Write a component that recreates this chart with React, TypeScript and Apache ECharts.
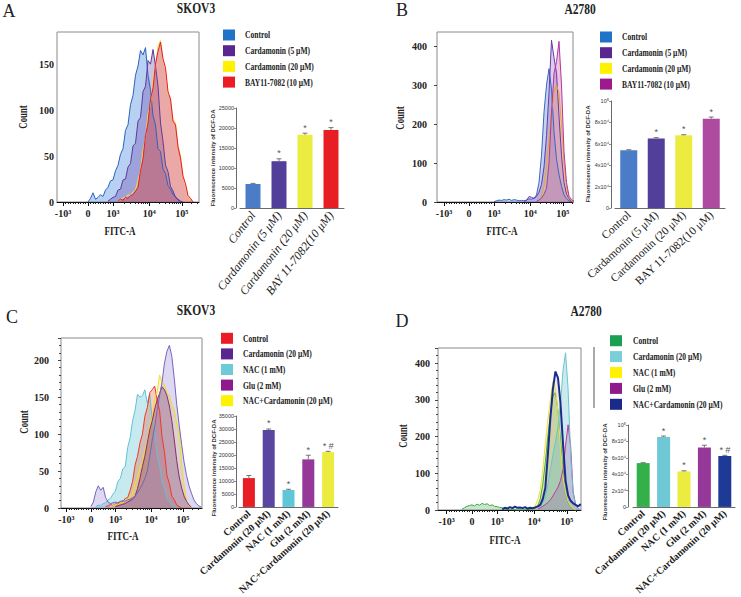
import React, { useEffect, useRef } from "react";
import * as echarts from "echarts";

// ===== FITC-A (biexponential) display scale =====
const fitcTickPos = [-1, 0, 1, 2.45, 3.75];
const fitcTickLabels = ["-10³", "0", "10³", "10⁴", "10⁵"];
const binWidth = 0.1;

// ===== Panel A: SKOV3 =====
const aLegend = ["Control", "Cardamonin (5 μM)", "Cardamonin (20 μM)", "BAY11-7082 (10 μM)"];
const aBarCategories = ["Control", "Cardamonin (5 μM)", "Cardamonin (20 μM)", "BAY 11-7082(10 μM)"];
const aBarValues = [6000, 11700, 18300, 19500];
const aBarErrors = [150, 600, 400, 600];
const aBarMarks = ["", "*", "*", "*"];
const aHistStarts = [0.0, 0.8, 1.2, 1.2];
const aHistControl = [0, 4, 10, 3, 5, 8, 6, 13, 16, 23, 24, 34, 40, 52, 58, 78, 84, 106, 116, 138, 148, 165, 160, 168, 138, 122, 94, 84, 58, 55, 36, 31, 18, 14, 8, 6, 2, 0];
const aHistCard5 = [1, 3, 5, 6, 13, 14, 24, 25, 38, 42, 61, 64, 88, 92, 120, 126, 154, 150, 166, 148, 126, 86, 66, 40, 33, 17, 12, 5, 3, 1, 0];
const aHistCard20 = [1, 2, 5, 4, 8, 7, 11, 13, 24, 34, 56, 70, 95, 106, 134, 148, 170, 176, 155, 144, 118, 113, 90, 86, 62, 50, 29, 18, 6, 3, 0];
const aHistBay = [1, 3, 2, 5, 4, 7, 8, 12, 16, 34, 47, 72, 86, 112, 124, 150, 164, 174, 156, 146, 120, 112, 88, 84, 60, 48, 28, 20, 7, 4, 0];

// ===== Panel B: A2780 =====
const bLegend = ["Control", "Cardamonin (5 μM)", "Cardamonin (20 μM)", "BAY11-7082 (10 μM)"];
const bBarCategories = ["Control", "Cardamonin (5 μM)", "Cardamonin (20 μM)", "BAY 11-7082(10 μM)"];
const bBarValues = [54000, 65000, 68000, 83500];
const bBarErrors = [500, 800, 500, 1500];
const bBarMarks = ["", "*", "*", "*"];
const bHistStarts = [1.0, 2.2, 2.8, 2.7];
const bHistControl = [1, 3, 5, 4, 6, 5, 7, 4, 6, 5, 3, 4, 3, 5, 8, 7, 10, 18, 50, 120, 230, 300, 342, 290, 180, 110, 70, 40, 18, 8, 3, 0];
const bHistCard5 = [2, 4, 14, 12, 9, 14, 25, 45, 90, 170, 280, 415, 370, 330, 220, 120, 50, 20, 8, 2, 0];
const bHistCard20 = [5, 15, 40, 90, 160, 230, 280, 300, 280, 200, 100, 40, 12, 3, 0];
const bHistBay = [2, 5, 10, 20, 35, 100, 230, 330, 360, 412, 300, 130, 50, 15, 6, 2];

// ===== Panel C: SKOV3 =====
const cLegend = ["Control", "Cardamonin (20 μM)", "NAC (1 mM)", "Glu (2 mM)", "NAC+Cardamonin (20 μM)"];
const cBarCategories = ["Control", "Cardamonin (20 μM)", "NAC (1 mM)", "Glu (2 mM)", "NAC+Cardamonin (20 μM)"];
const cBarValues = [11100, 29600, 6500, 18300, 21100];
const cBarErrors = [1000, 400, 300, 1600, 300];
const cBarMarks = ["", "*", "*", "*", "* #"];
const cHistStarts = [0.6, 0.0, 0.2, 1.0, 0.8];
const cHistControl = [2, 3, 5, 3, 6, 5, 8, 8, 13, 14, 24, 36, 58, 70, 88, 100, 124, 136, 156, 160, 165, 146, 132, 96, 76, 44, 33, 16, 11, 4, 2, 0];
const cHistCard20 = [2, 8, 22, 30, 24, 28, 14, 8, 6, 7, 8, 7, 9, 10, 9, 11, 12, 14, 16, 20, 26, 32, 40, 50, 70, 92, 110, 132, 152, 170, 196, 212, 220, 205, 175, 140, 112, 86, 62, 44, 30, 20, 11, 6, 3, 1];
const cHistNac = [2, 4, 3, 6, 7, 11, 13, 19, 23, 36, 40, 53, 56, 82, 95, 118, 132, 154, 150, 152, 160, 142, 154, 120, 104, 72, 58, 35, 27, 13, 9, 3, 2, 0];
const cHistGlu = [2, 3, 4, 5, 6, 8, 10, 12, 16, 26, 40, 56, 70, 88, 106, 118, 134, 146, 155, 164, 160, 152, 138, 118, 92, 64, 42, 27, 16, 9, 4, 1];
const cHistNacCard = [2, 3, 5, 4, 7, 7, 11, 11, 17, 19, 34, 42, 56, 62, 79, 88, 111, 122, 148, 157, 180, 170, 167, 155, 152, 140, 132, 115, 102, 60, 30, 9, 3, 0];

// ===== Panel D: A2780 =====
const dLegend = ["Control", "Cardamonin (20 μM)", "NAC (1 mM)", "Glu (2 mM)", "NAC+Cardamonin (20 μM)"];
const dBarCategories = ["Control", "Cardamonin (20 μM)", "NAC (1 mM)", "Glu (2 mM)", "NAC+Cardamonin (20 μM)"];
const dBarValues = [53500, 85500, 43300, 72500, 62200];
const dBarErrors = [500, 1000, 800, 2800, 800];
const dBarMarks = ["", "*", "*", "*", "* #"];
const dHistStarts = [-0.4, 1.2, 2.3, 2.6, 2.6];
const dHistControl = [2, 6, 10, 12, 14, 11, 16, 13, 18, 15, 17, 12, 14, 10, 9, 7, 6, 3, 2, 1, 1, 1, 0, 0, 0, 1, 1, 2, 2, 5, 10, 30, 70, 130, 200, 260, 310, 320, 270, 190, 110, 50, 20, 8, 2, 0];
const dHistNacCard = [2, 6, 4, 8, 5, 9, 6, 7, 5, 8, 4, 6, 5, 7, 10, 14, 30, 60, 150, 250, 330, 377, 360, 290, 180, 80, 40, 25, 18, 14, 10, 16];
const dHistNac = [3, 6, 12, 28, 55, 110, 180, 245, 300, 350, 330, 268, 170, 90, 50, 23, 10, 4, 0];
const dHistGlu = [3, 6, 10, 15, 20, 28, 38, 50, 62, 80, 110, 175, 232, 175, 50, 14, 4, 0];
const dHistCard20 = [4, 10, 20, 35, 70, 110, 150, 185, 225, 290, 380, 428, 330, 150, 45, 12, 3, 0];

// ===== Styles / layout =====
const SERIF = "'Liberation Serif', 'Times New Roman', serif";
const SANS = "'Liberation Sans', Arial, sans-serif";

const panels = [
  {
    letter: "A", letterPos: [9, 11], title: "SKOV3", titlePos: [196, 9],
    hist: { left: 57, top: 32, width: 142, height: 170, xMin: -1.24, xMax: 4.44, yMax: 185, yInt: 50, labelMargin: 3, yTick: false, yMinor: false },
    countPos: [22, 117], fitcPos: [120, 230],
    curves: [
      { data: aHistControl, start: aHistStarts[0], line: "#2a64bf", fill: "rgba(86,144,222,0.6)", width: 1 },
      { data: aHistCard5, start: aHistStarts[1], line: "#5a3c9c", fill: "rgba(110,78,175,0.5)", width: 1 },
      { data: aHistCard20, start: aHistStarts[2], line: "#f2e030", fill: "rgba(240,228,60,0.25)", width: 1 },
      { data: aHistBay, start: aHistStarts[3], line: "#e3193a", fill: "rgba(205,40,80,0.55)", width: 1 },
    ],
    legend: aLegend, legendColors: ["#1f74c8", "#5a2790", "#fff200", "#ec1c24"],
    legendPos: { x: 223, y0: 35, dy: 15.7, textX: 245 },
    bar: { left: 240, top: 108, width: 104, height: 100, yMax: 25000, yInt: 5000, offset: 4, barWidth: 15, rotate: 52, italic: true, bold: false, fontSize: 12, sci: false },
    yNamePos: [212.5, 158],
    cats: aBarCategories, values: aBarValues, errors: aBarErrors, marks: aBarMarks,
    barColors: ["#4a7cc8", "#513f99", "#ecec40", "#e81e25"],
  },
  {
    letter: "B", letterPos: [402, 10], title: "A2780", titlePos: [580, 10],
    hist: { left: 437, top: 32, width: 136, height: 170, xMin: -1.28, xMax: 4.16, yMax: 436, yInt: 100, labelMargin: 10, yTick: true, yMinor: false },
    countPos: [399, 118], fitcPos: [502, 230],
    curves: [
      { data: bHistControl, start: bHistStarts[0], line: "#3a66c4", fill: "rgba(90,130,210,0.5)", width: 1 },
      { data: bHistCard5, start: bHistStarts[1], line: "#6a3aa6", fill: "rgba(140,100,200,0.45)", width: 1 },
      { data: bHistCard20, start: bHistStarts[2], line: "#e8a828", fill: "rgba(240,220,80,0.35)", width: 1 },
      { data: bHistBay, start: bHistStarts[3], line: "#b0389c", fill: "rgba(200,90,175,0.5)", width: 1 },
    ],
    legend: bLegend, legendColors: ["#1f74c8", "#5a2790", "#fff200", "#9c1a8e"],
    legendPos: { x: 600, y0: 37, dy: 15.7, textX: 622 },
    bar: { left: 615, top: 101, width: 110, height: 107, yMax: 100000, yInt: 20000, offset: 4, barWidth: 17, rotate: 43, italic: false, bold: false, fontSize: 11.5, sci: true },
    yNamePos: [588, 154],
    cats: bBarCategories, values: bBarValues, errors: bBarErrors, marks: bBarMarks,
    barColors: ["#4a7cc8", "#513f99", "#ecec40", "#ae4aa0"],
  },
  {
    letter: "C", letterPos: [12, 317], title: "SKOV3", titlePos: [196, 311],
    hist: { left: 61, top: 338, width: 141, height: 170, xMin: -1.22, xMax: 4.53, yMax: 230, yInt: 50, labelMargin: 12, yTick: true, yMinor: true },
    countPos: [23, 422], fitcPos: [123, 535],
    curves: [
      { data: cHistNac, start: cHistStarts[2], line: "#5ec4d2", fill: "rgba(120,205,220,0.6)", width: 1 },
      { data: cHistControl, start: cHistStarts[0], line: "#ee3a22", fill: "rgba(238,90,60,0.45)", width: 1 },
      { data: cHistNacCard, start: cHistStarts[4], line: "#f2dc28", fill: "rgba(240,222,70,0.4)", width: 1 },
      { data: cHistGlu, start: cHistStarts[3], line: "#8a2c70", fill: "rgba(140,45,100,0.5)", width: 1 },
      { data: cHistCard20, start: cHistStarts[1], line: "#7664bc", fill: "rgba(150,132,212,0.45)", width: 1 },
    ],
    legend: cLegend, legendColors: ["#ec1c24", "#5a2790", "#6ccbd8", "#8e1a8e", "#fff200"],
    legendPos: { x: 221, y0: 338.3, dy: 15.6, textX: 243 },
    bar: { left: 239, top: 416, width: 99, height: 101, yMax: 35000, yInt: 5000, offset: 3, barWidth: 12, rotate: 42, italic: false, bold: true, fontSize: 10, sci: false },
    yNamePos: [213.5, 468],
    cats: cBarCategories, values: cBarValues, errors: cBarErrors, marks: cBarMarks,
    barColors: ["#e81e25", "#5a45a0", "#5ec6d6", "#96379a", "#ecec40"],
  },
  {
    letter: "D", letterPos: [402, 321], title: "A2780", titlePos: [586, 312],
    hist: { left: 438, top: 348, width: 143, height: 162, xMin: -1.34, xMax: 4.31, yMax: 441, yInt: 100, labelMargin: 8, yTick: true, yMinor: true },
    countPos: [402, 436], fitcPos: [505, 539],
    curves: [
      { data: dHistControl, start: dHistStarts[0], line: "#3cae44", fill: "rgba(90,170,100,0.45)", width: 1 },
      { data: dHistNac, start: dHistStarts[2], line: "#f0e040", fill: "rgba(240,232,90,0.5)", width: 1 },
      { data: dHistGlu, start: dHistStarts[3], line: "#c0389c", fill: "rgba(190,60,150,0.45)", width: 1 },
      { data: dHistCard20, start: dHistStarts[4], line: "#68c4d0", fill: "rgba(120,200,212,0.55)", width: 1 },
      { data: dHistNacCard, start: dHistStarts[1], line: "#1c2c8c", fill: "rgba(110,110,150,0.2)", width: 2 },
    ],
    legend: dLegend, legendColors: ["#1aa050", "#78cfd8", "#fff200", "#8e1a8e", "#1a2a8a"],
    legendPos: { x: 610, y0: 340.7, dy: 15.9, textX: 633 },
    bar: { left: 633, top: 425, width: 102, height: 97, yMax: 100000, yInt: 20000, offset: 5, barWidth: 13, rotate: 42, italic: false, bold: true, fontSize: 10, sci: true },
    yNamePos: [605, 472],
    cats: dBarCategories, values: dBarValues, errors: dBarErrors, marks: dBarMarks,
    barColors: ["#34b04a", "#6ec8d6", "#ecec40", "#96379a", "#1e3a96"],
  },
];

function fitcMinorTicks(min: number, max: number) {
  const t: number[] = [];
  for (let k = -9; k <= 9; k++) if (k !== 0) t.push(k / 10);
  for (let k = 2; k <= 9; k++) {
    t.push(1 + 1.45 * Math.log10(k));
    t.push(2.45 + 1.3 * Math.log10(k));
    t.push(3.75 + 1.3 * Math.log10(k));
  }
  return t.filter((v) => v > min && v < max);
}

function fitcLabel(v: number) {
  const i = fitcTickPos.findIndex((t) => Math.abs(t - v) < 1e-6);
  return i >= 0 ? fitcTickLabels[i] : "";
}

function sciLabel(v: number) {
  if (v === 0) return "0";
  if (v === 100000) return "10⁵";
  return `${v / 10000}x10⁴`;
}

function buildOption() {
  const grid: any[] = [];
  const xAxis: any[] = [];
  const yAxis: any[] = [];
  const series: any[] = [];
  const graphic: any[] = [];

  panels.forEach((p) => {
    // ---- histogram ----
    const hg = grid.length;
    const h = p.hist;
    grid.push({ left: h.left, top: h.top, width: h.width, height: h.height, show: true, borderColor: "#8a8a8a", borderWidth: 1, backgroundColor: "transparent" });
    const hx = xAxis.length;
    xAxis.push({
      type: "value", gridIndex: hg, position: "bottom", min: h.xMin, max: h.xMax,
      axisLine: { show: true, onZero: false, lineStyle: { color: "#111", width: 1 } },
      axisTick: { show: true, customValues: fitcTickPos, length: 4, lineStyle: { color: "#111" } },
      axisLabel: { customValues: fitcTickPos, formatter: fitcLabel, margin: 6, fontSize: 10, fontWeight: "bold", fontFamily: SERIF, color: "#222" },
      splitLine: { show: false },
    });
    xAxis.push({
      type: "value", gridIndex: hg, position: "bottom", min: h.xMin, max: h.xMax,
      axisLine: { show: false, onZero: false },
      axisTick: { show: true, customValues: fitcMinorTicks(h.xMin, h.xMax), length: 2, lineStyle: { color: "#222" } },
      axisLabel: { show: false },
      splitLine: { show: false },
    });
    const hy = yAxis.length;
    yAxis.push({
      type: "value", gridIndex: hg, position: "left", min: 0, max: h.yMax, interval: h.yInt,
      axisLine: { show: false, onZero: false },
      axisTick: { show: h.yTick, length: 3, lineStyle: { color: "#444" } },
      minorTick: { show: h.yMinor, splitNumber: 5, length: 2, lineStyle: { color: "#444" } },
      axisLabel: { margin: h.labelMargin, fontSize: 10, fontWeight: "bold", fontFamily: SERIF, color: "#222", showMaxLabel: false },
      splitLine: { show: false },
    });
    p.curves.forEach((c) => {
      series.push({
        type: "line", xAxisIndex: hx, yAxisIndex: hy, showSymbol: false, symbol: "none", clip: true,
        data: c.data.map((v, i) => [c.start + i * binWidth, v]),
        lineStyle: { color: c.line, width: c.width },
        areaStyle: { color: c.fill },
        itemStyle: { color: c.line },
      });
    });

    // ---- bar chart ----
    const bg = grid.length;
    const b = p.bar;
    grid.push({ left: b.left, top: b.top, width: b.width, height: b.height });
    const bx = xAxis.length;
    xAxis.push({
      type: "category", gridIndex: bg, position: "bottom", data: p.cats,
      axisLine: { show: true, onZero: false, lineStyle: { color: "#444", width: 0.8 } },
      axisTick: { show: false },
      axisLabel: {
        interval: 0, rotate: b.rotate, margin: 5, fontSize: b.fontSize, fontFamily: SERIF,
        fontStyle: b.italic ? "italic" : "normal", fontWeight: b.bold ? "bold" : "normal", color: "#222",
      },
    });
    const by = yAxis.length;
    yAxis.push({
      type: "value", gridIndex: bg, position: "left", min: 0, max: b.yMax, interval: b.yInt, offset: b.offset,
      axisLine: { show: true, onZero: false, lineStyle: { color: "#444", width: 0.8 } },
      axisTick: { show: true, length: 2, lineStyle: { color: "#444", width: 0.6 } },
      axisLabel: { margin: 2, fontSize: 5.5, fontFamily: SANS, color: "#333", formatter: b.sci ? sciLabel : (v: number) => String(v) },
      splitLine: { show: false },
    });
    series.push({
      type: "bar", xAxisIndex: bx, yAxisIndex: by, barWidth: b.barWidth,
      data: p.values.map((v, i) => ({ value: v, itemStyle: { color: p.barColors[i] } })),
    });
    const marks = p.marks;
    series.push({
      type: "custom", xAxisIndex: bx, yAxisIndex: by, z: 5,
      data: p.values.map((v, i) => [i, v, p.errors[i]]),
      encode: { x: 0, y: 1 },
      renderItem: (params: any, api: any) => {
        const i = api.value(0);
        const v = api.value(1);
        const e = api.value(2);
        const base = api.coord([i, v]);
        const top = api.coord([i, v + e]);
        const children: any[] = [
          { type: "line", shape: { x1: base[0], y1: base[1], x2: top[0], y2: top[1] }, style: { stroke: "#555", lineWidth: 0.8 } },
          { type: "line", shape: { x1: top[0] - 2.5, y1: top[1], x2: top[0] + 2.5, y2: top[1] }, style: { stroke: "#555", lineWidth: 0.8 } },
        ];
        const m = marks[params.dataIndex];
        if (m) {
          children.push({
            type: "text", x: top[0], y: top[1] - 1,
            style: { text: m, fill: "#555", fontSize: 9, fontFamily: SANS, fontStyle: m.length > 1 ? "italic" : "normal", align: "center", verticalAlign: "bottom" },
          });
        }
        return { type: "group", children };
      },
    });

    // ---- texts ----
    graphic.push({ type: "text", x: p.letterPos[0], y: p.letterPos[1], style: { text: p.letter, fontSize: 18, fontFamily: SERIF, fill: "#222", align: "center", verticalAlign: "middle" } });
    graphic.push({ type: "text", x: p.titlePos[0], y: p.titlePos[1], scaleX: 0.82, style: { text: p.title, fontSize: 14, fontWeight: "bold", fontFamily: SERIF, fill: "#222", align: "center", verticalAlign: "middle" } });
    graphic.push({ type: "text", x: p.countPos[0], y: p.countPos[1], rotation: Math.PI / 2, scaleX: 0.7, style: { text: "Count", fontSize: 12.5, fontWeight: "bold", fontFamily: SERIF, fill: "#222", align: "center", verticalAlign: "middle" } });
    graphic.push({ type: "text", x: p.fitcPos[0], y: p.fitcPos[1], scaleX: 0.72, style: { text: "FITC-A", fontSize: 12.5, fontWeight: "bold", fontFamily: SERIF, fill: "#222", align: "center", verticalAlign: "middle" } });
    graphic.push({ type: "text", x: p.yNamePos[0], y: p.yNamePos[1], rotation: Math.PI / 2, style: { text: "Fluorescence intensity of DCF-DA", fontSize: 6, fontWeight: "bold", fontFamily: SANS, fill: "#333", align: "center", verticalAlign: "middle" } });
    p.legend.forEach((name, i) => {
      const yc = p.legendPos.y0 + i * p.legendPos.dy;
      graphic.push({ type: "rect", shape: { x: p.legendPos.x, y: yc - 5.5, width: 12, height: 11 }, style: { fill: p.legendColors[i] } });
      graphic.push({ type: "text", x: p.legendPos.textX, y: yc, scaleX: 0.72, style: { text: name, fontSize: 10.5, fontWeight: "bold", fontFamily: SERIF, fill: "#222", align: "left", verticalAlign: "middle" } });
    });
  });

  graphic.push({ type: "line", shape: { x1: 594, y1: 347, x2: 594, y2: 408 }, style: { stroke: "#555", lineWidth: 1 } });

  return { animation: false, backgroundColor: "#ffffff", grid, xAxis, yAxis, series, graphic };
}

export default function App() {
  const ref = useRef<HTMLDivElement>(null);
  useEffect(() => {
    if (!ref.current) return;
    const chart = echarts.init(ref.current, undefined, { renderer: "svg" });
    chart.setOption(buildOption() as any);
    return () => chart.dispose();
  }, []);
  return <div ref={ref} style={{ position: "absolute", left: 0, top: 0, width: 741, height: 597, background: "#fff" }} />;
}
